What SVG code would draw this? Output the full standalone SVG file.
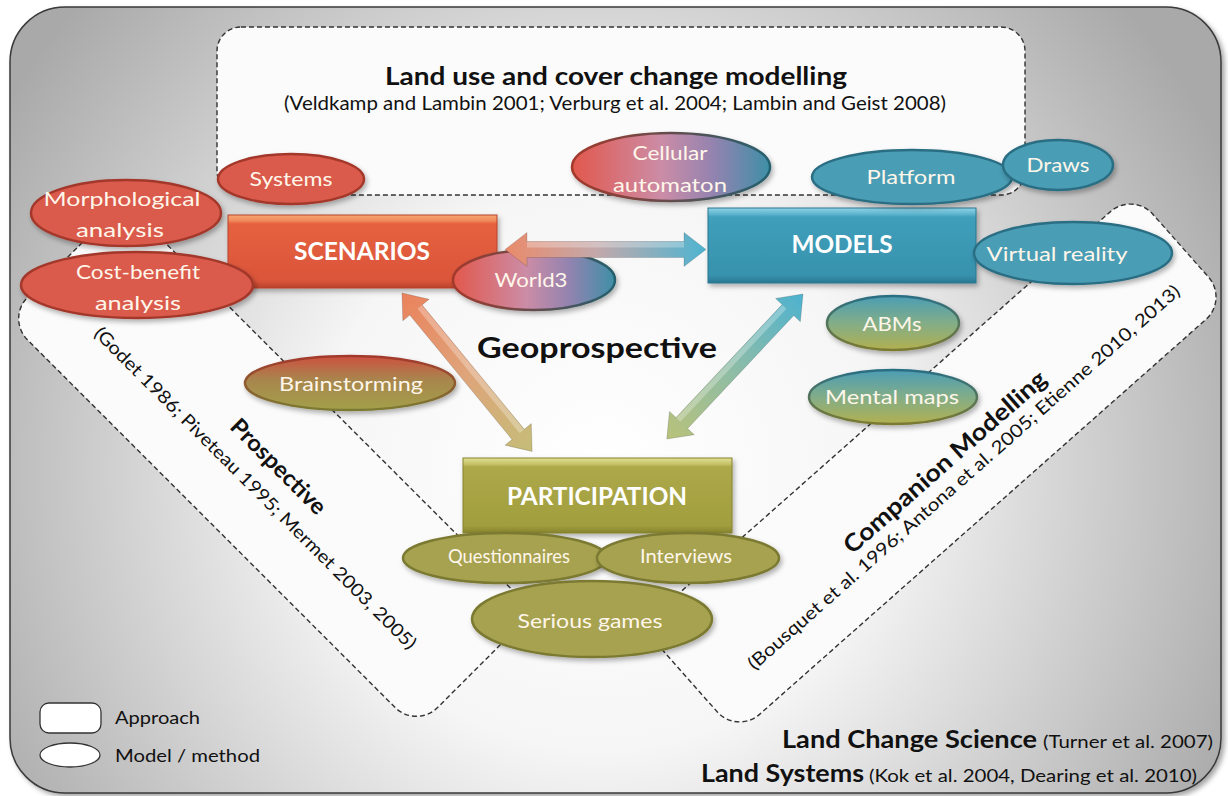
<svg xmlns="http://www.w3.org/2000/svg" width="1228" height="796" viewBox="0 0 1228 796">
<defs>
<radialGradient id="bg" gradientUnits="userSpaceOnUse" cx="600" cy="470" r="700">
<stop offset="0" stop-color="#ffffff"/><stop offset="0.4" stop-color="#f6f6f6"/><stop offset="1" stop-color="#a9a9a9"/>
</radialGradient>
<linearGradient id="gRed" x1="0" y1="0" x2="0" y2="1">
<stop offset="0" stop-color="#f7a673"/><stop offset="0.08" stop-color="#ef8a5a"/><stop offset="0.12" stop-color="#e5613f"/><stop offset="0.9" stop-color="#db553a"/><stop offset="1" stop-color="#b9432c"/>
</linearGradient>
<linearGradient id="gTeal" x1="0" y1="0" x2="0" y2="1">
<stop offset="0" stop-color="#8fd3e6"/><stop offset="0.08" stop-color="#5fb6cf"/><stop offset="0.12" stop-color="#3f9fbb"/><stop offset="0.9" stop-color="#3792ad"/><stop offset="1" stop-color="#2a7690"/>
</linearGradient>
<linearGradient id="gOlive" x1="0" y1="0" x2="0" y2="1">
<stop offset="0" stop-color="#e2df96"/><stop offset="0.08" stop-color="#c6c36a"/><stop offset="0.12" stop-color="#ada94a"/><stop offset="0.9" stop-color="#a19e3e"/><stop offset="1" stop-color="#86832e"/>
</linearGradient>
<linearGradient id="gMix" x1="0" y1="0" x2="1" y2="0">
<stop offset="0" stop-color="#e2584c"/><stop offset="0.45" stop-color="#cc8ca6"/><stop offset="0.72" stop-color="#9283b0"/><stop offset="1" stop-color="#3e8fa6"/>
</linearGradient>
<linearGradient id="gMixS" x1="0" y1="0" x2="1" y2="0">
<stop offset="0" stop-color="#a3392c"/><stop offset="1" stop-color="#24606f"/>
</linearGradient>
<linearGradient id="gTO" x1="0" y1="0" x2="0" y2="1">
<stop offset="0" stop-color="#4b9db5"/><stop offset="0.5" stop-color="#82ad88"/><stop offset="1" stop-color="#b2b050"/>
</linearGradient>
<linearGradient id="gTOS" x1="0" y1="0" x2="0" y2="1">
<stop offset="0" stop-color="#2b6e84"/><stop offset="1" stop-color="#7b7a32"/>
</linearGradient>
<linearGradient id="gRO" x1="0" y1="0" x2="0" y2="1">
<stop offset="0" stop-color="#cc5140"/><stop offset="0.45" stop-color="#a8864e"/><stop offset="1" stop-color="#a3a04a"/>
</linearGradient>
<linearGradient id="gROS" x1="0" y1="0" x2="0" y2="1">
<stop offset="0" stop-color="#a3392c"/><stop offset="1" stop-color="#7b7a32"/>
</linearGradient>
<linearGradient id="gArrH" x1="0" y1="0" x2="1" y2="0">
<stop offset="0" stop-color="#ea8a6a"/><stop offset="0.45" stop-color="#c4a8aa"/><stop offset="1" stop-color="#4eb4d1"/>
</linearGradient>
<linearGradient id="gArrL" x1="0" y1="0" x2="1" y2="0">
<stop offset="0" stop-color="#ea825c"/><stop offset="0.5" stop-color="#dfa47a"/><stop offset="1" stop-color="#c5bd78"/>
</linearGradient>
<linearGradient id="gArrR" x1="0" y1="0" x2="1" y2="0">
<stop offset="0" stop-color="#4eb2cf"/><stop offset="0.5" stop-color="#8cbca8"/><stop offset="1" stop-color="#b9c27a"/>
</linearGradient>
<filter id="sh" x="-20%" y="-20%" width="140%" height="150%">
<feDropShadow dx="2" dy="3" stdDeviation="2.5" flood-color="#000" flood-opacity="0.3"/>
</filter>
<filter id="shF" x="-5%" y="-5%" width="110%" height="110%">
<feDropShadow dx="3" dy="3" stdDeviation="2.5" flood-color="#000" flood-opacity="0.35"/>
</filter>
<style>
.dash{fill:#fbfbfb;stroke:#333;stroke-width:1.4;stroke-dasharray:5 3}
.f{font-family:Lato,'Liberation Sans',sans-serif}
.lbl{fill:#fff6ea;text-anchor:middle;font-size:20px}
.bx{fill:#fff;text-anchor:middle;font-weight:bold;font-size:24px}
.ink{fill:#111}
.eR{fill:#da5a4b;stroke:#a3392c;stroke-width:2.5}
.eT{fill:#4a9db5;stroke:#2b6e84;stroke-width:2.5}
.eO{fill:#a6a24f;stroke:#7b7a32;stroke-width:2.5}
.arr{stroke:#000;stroke-opacity:0.18;stroke-width:0.8}
.hl{fill:#fff;opacity:0.28}
</style>
</defs>

<g id="frame">
<rect x="10" y="7" width="1211" height="786" rx="55" fill="url(#bg)" stroke="#3a3a3a" stroke-width="1.5" filter="url(#shF)"/>
</g>

<g id="approach-lucc">
<rect class="dash" x="217" y="27" width="808" height="168" rx="24"/>
<text class="f ink" x="616" y="85" font-size="24" font-weight="bold" text-anchor="middle" textLength="462" lengthAdjust="spacingAndGlyphs">Land use and cover change modelling</text>
<text class="f ink" x="615" y="110" font-size="19" text-anchor="middle" textLength="662" lengthAdjust="spacingAndGlyphs">(Veldkamp and Lambin 2001; Verburg et al. 2004; Lambin and Geist 2008)</text>
</g>

<g id="approach-prospective" transform="translate(270,465) rotate(45)">
<rect class="dash" x="-290" y="-83" width="580" height="166" rx="30"/>
<text class="f ink" x="7" y="3" font-size="23" font-weight="bold" text-anchor="middle" textLength="125" lengthAdjust="spacingAndGlyphs">Prospective</text>
<text class="f ink" x="6" y="33" font-size="18" text-anchor="middle" textLength="447" lengthAdjust="spacingAndGlyphs">(Godet 1986; Piveteau 1995; Mermet 2003, 2005)</text>
</g>

<g id="approach-companion" transform="translate(935,463) rotate(-41.5)">
<rect class="dash" x="-328" y="-72" width="656" height="144" rx="30"/>
<text class="f ink" x="8" y="14" font-size="24" font-weight="bold" text-anchor="middle" textLength="262" lengthAdjust="spacingAndGlyphs">Companion Modelling</text>
<text class="f ink" x="12" y="36" font-size="18" text-anchor="middle" textLength="570" lengthAdjust="spacingAndGlyphs">(Bousquet et al. 1996; Antona et al. 2005; Etienne 2010, 2013)</text>
</g>

<g id="scenarios">
<rect x="228" y="215" width="269" height="73" fill="url(#gRed)" stroke="#b8432c" stroke-width="1" filter="url(#sh)"/>
<text class="f bx" x="362" y="260" textLength="136" lengthAdjust="spacingAndGlyphs">SCENARIOS</text>
</g>
<g id="models">
<rect x="708" y="208" width="268" height="75" fill="url(#gTeal)" stroke="#2a7690" stroke-width="1" filter="url(#sh)"/>
<text class="f bx" x="842" y="253" textLength="101" lengthAdjust="spacingAndGlyphs">MODELS</text>
</g>
<g id="participation">
<rect x="463" y="458" width="269" height="75" fill="url(#gOlive)" stroke="#86832e" stroke-width="1" filter="url(#sh)"/>
<text class="f bx" x="597" y="505" textLength="180" lengthAdjust="spacingAndGlyphs">PARTICIPATION</text>
</g>

<g id="systems">
<ellipse class="eR" cx="291" cy="179" rx="73" ry="25" filter="url(#sh)"/>
<text class="f lbl" x="291" y="186" textLength="83" lengthAdjust="spacingAndGlyphs">Systems</text>
</g>
<g id="morphological">
<ellipse class="eR" cx="126" cy="213" rx="95" ry="33" filter="url(#sh)"/>
<text class="f lbl" x="122" y="206" font-size="21" textLength="157" lengthAdjust="spacingAndGlyphs">Morphological</text>
<text class="f lbl" x="120" y="237" font-size="21" textLength="88" lengthAdjust="spacingAndGlyphs">analysis</text>
</g>
<g id="costbenefit">
<ellipse class="eR" cx="137" cy="285" rx="116" ry="33" filter="url(#sh)"/>
<text class="f lbl" x="138" y="279" font-size="21" textLength="124" lengthAdjust="spacingAndGlyphs">Cost-benefit</text>
<text class="f lbl" x="138" y="310" font-size="21" textLength="86" lengthAdjust="spacingAndGlyphs">analysis</text>
</g>
<g id="world3">
<ellipse cx="534" cy="280" rx="81" ry="30" fill="url(#gMix)" stroke="url(#gMixS)" stroke-width="2.5" filter="url(#sh)"/>
<text class="f lbl" x="531" y="287" textLength="73" lengthAdjust="spacingAndGlyphs">World3</text>
</g>
<g id="cellular">
<ellipse cx="671" cy="167" rx="99" ry="34" fill="url(#gMix)" stroke="url(#gMixS)" stroke-width="2.5" filter="url(#sh)"/>
<text class="f lbl" x="670" y="160" textLength="75" lengthAdjust="spacingAndGlyphs">Cellular</text>
<text class="f lbl" x="670" y="192" textLength="114" lengthAdjust="spacingAndGlyphs">automaton</text>
</g>
<g id="platform">
<ellipse class="eT" cx="912" cy="177" rx="100" ry="27" filter="url(#sh)"/>
<text class="f lbl" x="911" y="184" textLength="89" lengthAdjust="spacingAndGlyphs">Platform</text>
</g>
<g id="draws">
<ellipse class="eT" cx="1058" cy="165" rx="55" ry="25" filter="url(#sh)"/>
<text class="f lbl" x="1058" y="172" textLength="63" lengthAdjust="spacingAndGlyphs">Draws</text>
</g>
<g id="virtualreality">
<ellipse class="eT" cx="1073" cy="253" rx="99" ry="31" filter="url(#sh)"/>
<text class="f lbl" x="1057" y="261" font-size="21" textLength="141" lengthAdjust="spacingAndGlyphs">Virtual reality</text>
</g>
<g id="abms">
<ellipse cx="893" cy="323" rx="66" ry="27" fill="url(#gTO)" stroke="url(#gTOS)" stroke-width="2.5" filter="url(#sh)"/>
<text class="f lbl" x="892" y="331" textLength="59" lengthAdjust="spacingAndGlyphs">ABMs</text>
</g>
<g id="mentalmaps">
<ellipse cx="893" cy="397" rx="84" ry="27" fill="url(#gTO)" stroke="url(#gTOS)" stroke-width="2.5" filter="url(#sh)"/>
<text class="f lbl" x="892" y="404" textLength="134" lengthAdjust="spacingAndGlyphs">Mental maps</text>
</g>
<g id="brainstorming">
<ellipse cx="350" cy="383" rx="105" ry="27" fill="url(#gRO)" stroke="url(#gROS)" stroke-width="2.5" filter="url(#sh)"/>
<text class="f lbl" x="351" y="391" textLength="144" lengthAdjust="spacingAndGlyphs">Brainstorming</text>
</g>
<g id="questionnaires">
<ellipse class="eO" cx="505" cy="558" rx="102" ry="25" filter="url(#sh)"/>
<text class="f lbl" x="509" y="563" font-size="17" textLength="122" lengthAdjust="spacingAndGlyphs">Questionnaires</text>
</g>
<g id="interviews">
<ellipse class="eO" cx="688" cy="558" rx="91" ry="25" filter="url(#sh)"/>
<text class="f lbl" x="686" y="563" textLength="92" lengthAdjust="spacingAndGlyphs">Interviews</text>
</g>
<g id="seriousgames">
<ellipse class="eO" cx="592" cy="619" rx="120" ry="38" filter="url(#sh)"/>
<text class="f lbl" x="590" y="628" font-size="21" textLength="145" lengthAdjust="spacingAndGlyphs">Serious games</text>
</g>

<g id="connectors">
<g transform="translate(505,249.5)">
<polygon class="arr" fill="url(#gArrH)" points="0,0 22,-17 22,-8 179,-8 179,-17 201,0 179,17 179,8 22,8 22,17"/>
<rect class="hl" x="22" y="-7.5" width="157" height="5.5"/>
</g>
<g transform="translate(402,293) rotate(50.6)">
<polygon class="arr" fill="url(#gArrL)" points="0,0 22,-17 22,-8 183,-8 183,-17 205,0 183,17 183,8 22,8 22,17"/>
<rect class="hl" x="22" y="-7.5" width="161" height="5.5"/>
</g>
<g transform="translate(803,294) rotate(133.2)">
<polygon class="arr" fill="url(#gArrR)" points="0,0 22,-17 22,-8 177,-8 177,-17 199,0 177,17 177,8 22,8 22,17"/>
<rect class="hl" x="22" y="2" width="155" height="5.5"/>
</g>
</g>

<g id="title-geoprospective">
<text class="f ink" x="597" y="358" font-size="28" font-weight="bold" text-anchor="middle" textLength="240" lengthAdjust="spacingAndGlyphs">Geoprospective</text>
</g>

<g id="legend">
<rect x="40" y="703" width="61" height="30" rx="9" fill="#fff" stroke="#333" stroke-width="1.3"/>
<ellipse cx="70" cy="755" rx="30" ry="12" fill="#fff" stroke="#333" stroke-width="1.3"/>
<text class="f ink" x="115" y="724" font-size="18" textLength="85" lengthAdjust="spacingAndGlyphs">Approach</text>
<text class="f ink" x="115" y="762" font-size="18" textLength="145" lengthAdjust="spacingAndGlyphs">Model / method</text>
</g>

<g id="footer">
<text class="f ink" x="782" y="748" font-size="24" font-weight="bold" textLength="255" lengthAdjust="spacingAndGlyphs">Land Change Science</text>
<text class="f ink" x="1043" y="748" font-size="18" textLength="170" lengthAdjust="spacingAndGlyphs">(Turner et al. 2007)</text>
<text class="f ink" x="701" y="782" font-size="24" font-weight="bold" textLength="163" lengthAdjust="spacingAndGlyphs">Land Systems</text>
<text class="f ink" x="869" y="782" font-size="18" textLength="328" lengthAdjust="spacingAndGlyphs">(Kok et al. 2004, Dearing et al. 2010)</text>
</g>
</svg>
